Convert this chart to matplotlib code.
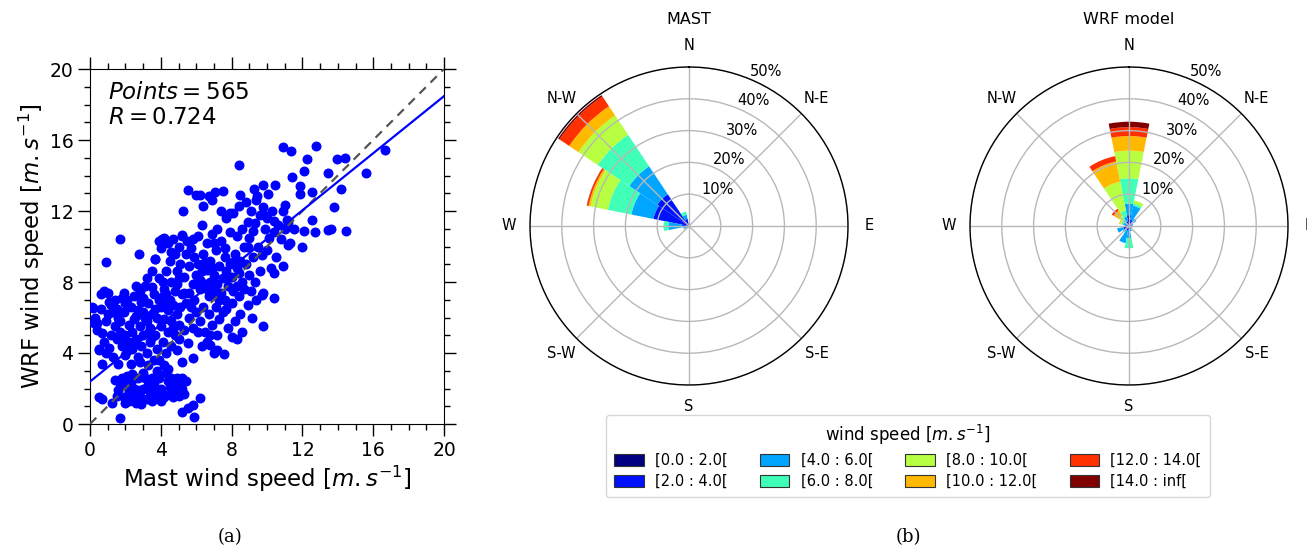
import matplotlib
matplotlib.use("Agg")
import matplotlib.pyplot as plt
from matplotlib.patches import Patch
import numpy as np

# ==========================================================
# DATA
# ==========================================================

# scatter: (mast, wrf) wind speed in m/s
scatter_pts = [
    # lower-left cluster
    (1.8, 2.6), (2.0, 2.2), (2.2, 1.8), (2.4, 1.5), (2.6, 1.2), (2.8, 1.6), (3.0, 2.0), (3.2, 1.4),
    (3.4, 1.8), (3.6, 2.3), (3.8, 1.6), (4.0, 2.0), (4.2, 1.5), (4.4, 2.4), (4.6, 1.8), (4.8, 2.2),
    (5.0, 1.6), (5.2, 2.0), (5.4, 2.4), (1.6, 1.9), (1.9, 1.5), (2.1, 2.7), (2.3, 2.3), (2.5, 2.0),
    (2.7, 2.6), (2.9, 1.1), (3.1, 2.6), (3.3, 2.2), (3.5, 1.3), (3.7, 2.0), (3.9, 2.6), (4.1, 1.7),
    (4.3, 2.9), (4.5, 2.1), (4.7, 1.5), (4.9, 2.6), (5.1, 1.9), (5.3, 1.7), (2.0, 1.2), (2.6, 1.7),
    (3.0, 2.9), (3.5, 2.6), (4.0, 1.3), (4.6, 2.6), (5.0, 2.3), (1.7, 2.3), (2.4, 2.8), (3.8, 3.0),
    (4.2, 3.3), (3.3, 3.3), (2.8, 3.5), (3.9, 3.6), (4.4, 3.1), (5.2, 2.6), (2.2, 1.3), (1.4, 2.5),
    (1.5, 1.6), (2.7, 1.9), (3.6, 1.6), (4.8, 1.8), (0.66, 1.41), (0.5, 1.5), (1.22, 1.17), (1.69, 0.36),
    (6.21, 1.48), (5.87, 0.41), (5.17, 0.70), (5.55, 0.88), (5.83, 1.07),
    # middle-left cluster
    (0.2, 5.7), (0.4, 5.3), (0.5, 4.2), (0.6, 6.5), (0.7, 3.4), (0.8, 4.6), (0.8, 7.5), (0.9, 5.8),
    (1.0, 6.2), (1.0, 7.4), (1.1, 4.3), (1.2, 5.0), (1.2, 6.7), (1.3, 3.8), (1.4, 5.5), (1.4, 7.0),
    (1.5, 4.8), (1.6, 6.0), (1.6, 3.4), (1.7, 5.2), (1.8, 7.1), (1.8, 4.4), (1.9, 6.3), (2.0, 5.0),
    (2.0, 3.9), (2.1, 7.0), (2.2, 5.6), (2.2, 4.6), (2.3, 6.6), (2.4, 4.2), (2.4, 5.2), (2.5, 7.2),
    (2.6, 4.8), (2.6, 6.1), (2.7, 3.8), (2.8, 5.5), (2.8, 7.5), (2.9, 4.4), (3.0, 6.3), (3.0, 5.0),
    (3.1, 7.8), (3.2, 4.0), (3.2, 5.8), (3.3, 6.8), (3.4, 4.6), (3.4, 5.4), (3.5, 6.2), (3.6, 7.3),
    (3.6, 3.6), (3.7, 5.0), (3.8, 6.0), (3.8, 4.2), (3.9, 7.0), (4.0, 5.5), (4.0, 6.6), (4.1, 4.6),
    (4.2, 5.9), (4.2, 7.6), (4.3, 4.0), (4.4, 6.4), (4.4, 5.2), (4.5, 7.0), (4.6, 5.8), (4.6, 4.4),
    (4.7, 6.7), (4.8, 5.0), (4.8, 7.5), (4.9, 6.2), (5.0, 4.8), (5.0, 5.6), (5.1, 6.6), (5.2, 7.3),
    (5.3, 5.3), (0.3, 6.0), (1.1, 6.9), (1.7, 5.8), (2.5, 5.9), (3.3, 5.1), (2.9, 6.9), (2.1, 4.1),
    (0.9, 4.0), (1.5, 6.5), (2.3, 3.4), (3.7, 6.5), (4.3, 6.9), (0.6, 7.3), (1.9, 7.4), (0.1, 6.6),
    (0.19, 6.56), (0.38, 5.68), (0.51, 4.17), (0.9, 9.1), (1.69, 10.41), (2.75, 9.57),
    (3.69, 9.29), (4.08, 10.41), (1.3, 6.3), (2.7, 6.4), (3.5, 4.9), (1.9, 4.8), (4.1, 7.2),
    (2.5, 4.5), (0.7, 5.1), (3.1, 6.0), (2.0, 6.8), (4.7, 5.4),
    # upper-left cluster
    (2.6, 7.8), (3.0, 7.1), (3.2, 8.2), (3.5, 7.7), (3.9, 8.2), (4.1, 8.0), (4.3, 8.6), (4.5, 9.2),
    (4.6, 8.0), (4.8, 9.6), (4.9, 8.6), (5.0, 10.0), (5.1, 9.0), (5.2, 10.6), (5.3, 8.3), (5.4, 9.6),
    (5.5, 10.3), (5.6, 8.9), (5.7, 9.9), (5.8, 7.9), (5.9, 9.4), (4.2, 10.5), (4.0, 9.9), (4.4, 10.2),
    (3.7, 9.3), (3.9, 10.3), (4.7, 10.4), (5.3, 7.4), (4.3, 7.3), (4.9, 7.9), (5.4, 6.8), (5.6, 7.4),
    (5.23, 12.01), (5.19, 10.66), (5.55, 13.20), (4.6, 9.7), (5.0, 8.2), (5.8, 10.4), (3.5, 8.6),
    # main cluster
    (5.6, 6.0), (5.8, 5.4), (5.9, 7.0), (6.0, 6.3), (6.0, 8.4), (6.1, 9.0), (6.1, 10.6), (6.2, 5.8),
    (6.2, 7.6), (6.3, 8.6), (6.3, 11.2), (6.4, 6.6), (6.4, 9.6), (6.5, 5.2), (6.5, 7.9), (6.6, 8.7),
    (6.6, 10.2), (6.7, 6.2), (6.7, 7.2), (6.8, 9.2), (6.8, 8.0), (6.9, 5.6), (6.9, 10.7), (7.0, 7.6),
    (7.0, 8.4), (7.1, 6.6), (7.1, 9.8), (7.2, 7.9), (7.2, 11.0), (7.3, 8.9), (7.3, 5.9), (7.4, 7.4),
    (7.4, 10.3), (7.5, 8.2), (7.5, 6.3), (7.6, 9.4), (7.6, 7.0), (7.7, 8.6), (7.7, 11.6), (7.8, 7.8),
    (7.8, 5.4), (7.9, 9.0), (7.9, 10.8), (8.0, 8.3), (8.0, 6.8), (8.1, 7.5), (8.1, 11.9), (8.2, 9.6),
    (8.2, 5.8), (8.3, 8.8), (8.3, 10.6), (8.4, 7.2), (8.4, 12.3), (8.5, 9.2), (8.5, 6.2), (8.6, 8.0),
    (8.6, 11.0), (8.7, 10.0), (8.7, 7.6), (8.8, 12.5), (8.8, 9.0), (8.9, 6.7), (8.9, 11.4), (9.0, 8.4),
    (9.0, 10.5), (9.1, 7.5), (9.1, 12.0), (9.2, 9.4), (9.3, 11.3), (9.3, 8.0), (9.4, 12.6), (9.4, 7.0),
    (9.5, 10.0), (9.6, 11.8), (9.6, 8.6), (9.7, 9.5), (9.8, 12.2), (9.8, 7.4), (9.9, 11.0), (10.0, 9.8),
    (10.0, 11.6), (10.1, 10.5), (10.2, 8.8), (10.3, 12.0), (10.4, 10.8), (10.5, 9.4), (10.6, 11.2),
    (10.8, 10.4), (10.9, 12.0), (11.0, 11.0), (11.2, 11.4), (11.3, 10.2), (11.5, 11.0), (6.0, 12.9),
    (6.4, 12.3), (6.9, 12.6), (7.4, 12.0), (8.5, 12.9), (6.3, 4.4), (6.6, 4.6), (7.0, 4.0), (7.2, 5.0),
    (6.1, 5.2), (5.7, 6.6), (8.0, 4.9), (8.6, 5.2), (6.8, 5.0), (8.28, 4.79), (7.56, 3.93),
    (7.15, 4.17), (6.77, 4.45), (5.83, 3.70), (5.55, 4.59), (5.17, 3.52), (4.93, 4.17),
    (6.21, 12.88), (6.72, 12.82), (7.06, 13.05), (7.49, 13.10), (7.90, 11.88), (8.39, 14.61),
    (9.26, 13.23), (9.41, 12.82), (9.13, 5.96), (9.76, 5.53), (9.71, 7.29), (9.78, 11.82),
    (9.75, 13.48), (10.08, 12.97), (10.44, 13.48), (10.39, 11.41), (10.39, 7.09), (10.39, 8.50),
    (10.88, 8.91), (11.04, 12.35), (11.15, 11.47), (11.19, 10.09), (11.97, 9.96),
    (6.5, 9.1), (7.0, 10.2), (7.3, 7.0), (7.8, 8.3), (8.1, 9.1), (6.9, 8.8), (7.6, 9.9), (8.4, 8.5),
    (6.2, 8.1), (7.1, 7.3), (8.9, 10.0), (9.2, 10.9), (7.7, 6.5), (6.6, 7.6), (8.3, 7.8),
    # upper-right points
    (16.69, 15.41), (15.58, 14.14), (14.49, 10.85), (14.43, 14.98), (13.96, 14.94), (14.19, 13.25),
    (13.79, 12.22), (13.64, 10.98), (13.45, 10.94), (13.45, 14.14), (12.79, 15.64), (12.27, 14.92),
    (12.08, 14.23), (11.40, 13.89), (10.91, 15.60), (11.33, 15.36), (11.85, 13.42), (11.89, 12.97),
    (12.08, 10.85), (12.70, 10.79), (12.57, 11.47), (12.55, 13.05),
]
mast_ws = [p[0] for p in scatter_pts]
wrf_ws = [p[1] for p in scatter_pts]

fit_slope = 0.804
fit_intercept = 2.39
n_points = 565
r_value = 0.724

# wind roses: 16 directions (N, NNE, ... NNW), 8 speed bins, in %
dir_labels = ["N", "N-E", "E", "S-E", "S", "S-W", "W", "N-W"]
speed_bins = ["[0.0 : 2.0[", "[2.0 : 4.0[", "[4.0 : 6.0[", "[6.0 : 8.0[",
              "[8.0 : 10.0[", "[10.0 : 12.0[", "[12.0 : 14.0[", "[14.0 : inf["]

mast_freq = [
    [0.3, 0.2, 0.0, 0.0, 0.0, 0.0, 0.0, 0.0],     # N
    [0.2, 0.2, 0.0, 0.0, 0.0, 0.0, 0.0, 0.0],     # NNE
    [0.2, 0.1, 0.0, 0.0, 0.0, 0.0, 0.0, 0.0],     # NE
    [0.2, 0.1, 0.0, 0.0, 0.0, 0.0, 0.0, 0.0],     # ENE
    [0.2, 0.1, 0.0, 0.0, 0.0, 0.0, 0.0, 0.0],     # E
    [0.2, 0.1, 0.0, 0.0, 0.0, 0.0, 0.0, 0.0],     # ESE
    [0.2, 0.1, 0.0, 0.0, 0.0, 0.0, 0.0, 0.0],     # SE
    [0.2, 0.1, 0.0, 0.0, 0.0, 0.0, 0.0, 0.0],     # SSE
    [0.2, 0.2, 0.0, 0.0, 0.0, 0.0, 0.0, 0.0],     # S
    [0.2, 0.3, 0.1, 0.0, 0.0, 0.0, 0.0, 0.0],     # SSW
    [0.3, 0.4, 0.2, 0.0, 0.0, 0.0, 0.0, 0.0],     # SW
    [0.3, 0.8, 0.6, 0.2, 0.0, 0.0, 0.0, 0.0],     # WSW
    [0.3, 2.0, 4.2, 1.5, 0.0, 0.0, 0.0, 0.0],     # W
    [0.5, 10.9, 7.1, 7.5, 5.6, 0.6, 0.5, 0.1],    # WNW
    [0.8, 11.2, 10.6, 11.9, 7.3, 3.5, 3.7, 0.5],  # NW
    [0.3, 2.0, 1.3, 1.0, 0.0, 0.0, 0.0, 0.0],     # NNW
]

wrf_freq = [
    [1.0, 2.4, 3.6, 8.0, 8.7, 4.6, 2.8, 1.7],     # N
    [0.5, 1.5, 4.5, 0.7, 1.0, 0.0, 0.0, 0.0],     # NNE
    [0.3, 1.0, 1.5, 0.0, 0.0, 0.0, 0.0, 0.0],     # NE
    [0.3, 0.6, 0.4, 0.0, 0.0, 0.0, 0.0, 0.0],     # ENE
    [0.3, 0.5, 0.3, 0.0, 0.0, 0.0, 0.0, 0.0],     # E
    [0.3, 0.5, 0.3, 0.0, 0.0, 0.0, 0.0, 0.0],     # ESE
    [0.3, 0.5, 0.4, 0.0, 0.0, 0.0, 0.0, 0.0],     # SE
    [0.3, 0.8, 0.6, 0.0, 0.0, 0.0, 0.0, 0.0],     # SSE
    [0.3, 1.0, 2.5, 3.2, 0.0, 0.0, 0.0, 0.0],     # S
    [0.3, 1.2, 4.0, 0.0, 0.0, 0.0, 0.0, 0.0],     # SSW
    [0.3, 1.0, 1.0, 0.0, 0.0, 0.0, 0.0, 0.0],     # SW
    [0.3, 1.5, 2.0, 0.0, 0.0, 0.0, 0.0, 0.0],     # WSW
    [0.3, 0.6, 0.5, 0.0, 0.0, 0.0, 0.0, 0.0],     # W
    [0.3, 0.8, 0.8, 0.6, 0.4, 0.3, 0.0, 0.0],     # WNW
    [0.2, 0.5, 0.8, 1.0, 1.5, 1.8, 0.7, 0.0],     # NW
    [0.5, 1.0, 1.5, 2.0, 9.2, 6.5, 1.7, 0.0],     # NNW
]

# ==========================================================
# FIGURE
# ==========================================================

W, H = 1307, 547
fig = plt.figure(figsize=(W / 100, H / 100), dpi=100)

# ---------------- (a) scatter -----------------------------
ax = fig.add_axes([90 / W, 123 / H, 354 / W, 355 / H])
ax.scatter(mast_ws, wrf_ws, s=38, color="blue", zorder=3)

xx = np.array([0, 20])
ax.plot(xx, xx, ls="--", color="#555555", lw=1.6, dashes=(4, 3), zorder=4)
ax.plot(xx, fit_slope * xx + fit_intercept, color="blue", lw=1.6, zorder=4)

ax.set_xlim(0, 20)
ax.set_ylim(0, 20)
ax.set_xticks(np.arange(0, 21, 4))
ax.set_yticks(np.arange(0, 21, 4))
ax.set_xticks(np.arange(0, 21, 1), minor=True)
ax.set_yticks(np.arange(0, 21, 1), minor=True)
ax.tick_params(which="both", direction="out", top=True, right=True, labelsize=13.5)
ax.tick_params(which="major", length=8.5, width=1)
ax.tick_params(which="minor", length=4.5, width=1)
ax.set_xlabel(r"Mast wind speed $[m.s^{-1}]$", fontsize=16.5, labelpad=3)
ax.set_ylabel(r"WRF wind speed $[m.s^{-1}]$", fontsize=16.5, labelpad=2)
ax.text(0.05, 0.965,
        r"$Points = %d$" % n_points + "\n" + r"$R = %.3f$" % r_value,
        transform=ax.transAxes, ha="left", va="top", fontsize=16.5, linespacing=1.1)

# ---------------- (b) wind roses --------------------------
colors = plt.cm.jet(np.linspace(0, 1, len(speed_bins)))
theta = np.deg2rad(np.arange(16) * 22.5)
sector = np.deg2rad(22.5)


def rosa(freq, cx, titulo):
    r = 159
    pax = fig.add_axes([(cx - r) / W, (H - 226 - r) / H, 2 * r / W, 2 * r / H],
                       projection="polar")
    pax.set_theta_zero_location("N")
    pax.set_theta_direction(-1)
    freq = np.array(freq)
    base = np.zeros(16)
    for i in range(len(speed_bins)):
        pax.bar(theta, freq[:, i], width=sector, bottom=base,
                color=colors[i], edgecolor="none", align="center")
        base += freq[:, i]
    pax.set_ylim(0, 50)
    pax.set_yticks([10, 20, 30, 40, 50])
    pax.set_yticklabels(["10%", "20%", "30%", "40%", "50%"], fontsize=10.5)
    pax.set_rlabel_position(22.5)
    pax.set_xticks(np.deg2rad(np.arange(0, 360, 45)))
    pax.set_xticklabels(dir_labels, fontsize=10.5)
    pax.tick_params(axis="x", pad=5)
    pax.grid(True, color="#b8b8b8", lw=1.0)
    pax.spines["polar"].set_linewidth(1.0)
    fig.text(cx / W, 1 - 19 / H, titulo, ha="center", va="center", fontsize=11.5)
    return pax


rosa(mast_freq, 689, "MAST")
rosa(wrf_freq, 1129, "WRF model")

handles = [Patch(facecolor=colors[i], edgecolor="#333333", lw=0.8, label=speed_bins[i])
           for i in range(len(speed_bins))]
fig.legend(handles=handles, ncol=4, loc="center",
           bbox_to_anchor=(908 / W, 1 - 456 / H),
           title=r"wind speed $[m.s^{-1}]$", title_fontsize=12, fontsize=10.5,
           handlelength=2.0, handleheight=0.9, columnspacing=2.2,
           labelspacing=0.4, borderpad=0.55,
           frameon=True, edgecolor="#cccccc", fancybox=True)

fig.text(230 / W, 1 - 537 / H, "(a)", ha="center", va="center",
         fontsize=13, family="DejaVu Serif")
fig.text(908 / W, 1 - 537 / H, "(b)", ha="center", va="center",
         fontsize=13, family="DejaVu Serif")

fig.savefig("out.png", dpi=100)
